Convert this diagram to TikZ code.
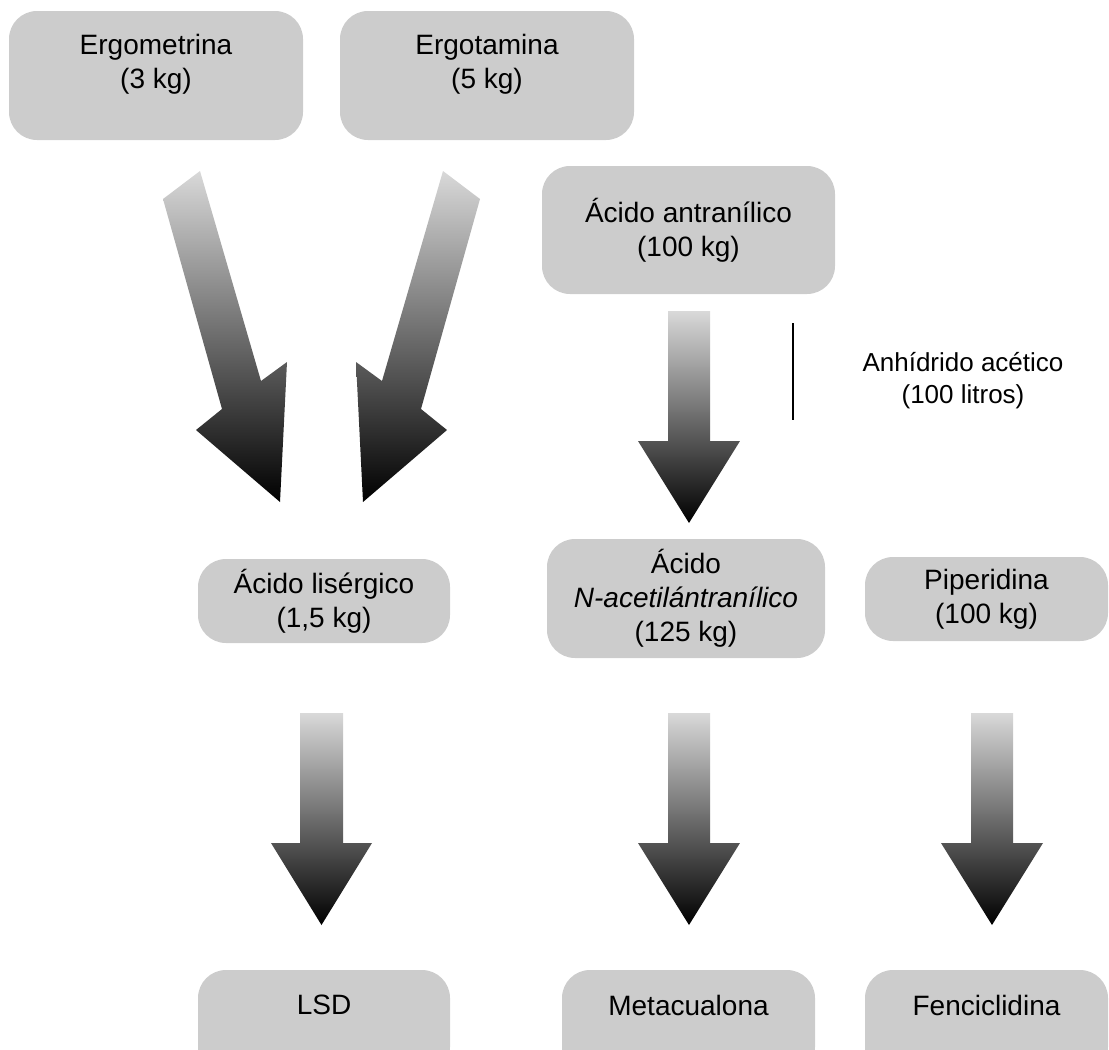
\documentclass[tikz,border=0pt]{standalone}
\usepackage{fontspec}
\setmainfont{Liberation Sans}
\usetikzlibrary{positioning}

\begin{document}
\begin{tikzpicture}[
        x=1pt, y=-1pt,
        base/.style={align=center, font=\fontsize{28}{34}\selectfont},
        box/.style={base, rectangle, rounded corners=28pt, fill=black!20, inner sep=0pt},
        bigarrow/.style={top color=black!15, bottom color=black},
        note/.style={base, font=\fontsize{26}{32}\selectfont}
    ]

        \useasboundingbox (0,0) rectangle (1109,1050);

        \node[box, minimum width=294pt, minimum height=129pt] (ergomet) at (156,75.5) {};
        \node[base] (ergomettext) at ([yshift=11.5pt]ergomet.center) {Ergometrina\\(3 kg)};
        \node[box, minimum width=294pt, minimum height=129pt] (ergotam) at (487,75.5) {};
        \node[base] (ergotamtext) at ([yshift=11.5pt]ergotam.center) {Ergotamina\\(5 kg)};

        \node[box, minimum width=293pt, minimum height=128pt] (antran) at (688.5,230) {Ácido antranílico\\(100 kg)};

        \node[box, minimum width=252pt, minimum height=84pt] (liserg) at (324,601) {Ácido lisérgico\\(1,5 kg)};
        \node[box, minimum width=278pt, minimum height=119pt] (acetil) at (686,598.5) {Ácido\\\textit{N-acetilántranílico}\\(125 kg)};
        \node[box, minimum width=243pt, minimum height=84pt] (piperid) at (986.5,599) {Piperidina\\(100 kg)};

        \node[box, minimum width=252pt, minimum height=105pt] (lsd) at (324,1022.5) {};
        \node[base] (lsdtext) at ([yshift=17.5pt]lsd.center) {LSD};
        \node[box, minimum width=253pt, minimum height=105pt] (metac) at (688.5,1022.5) {};
        \node[base] (metactext) at ([yshift=17.5pt]metac.center) {Metacualona};
        \node[box, minimum width=243pt, minimum height=105pt] (fenci) at (986.5,1022.5) {};
        \node[base] (fencitext) at ([yshift=17.5pt]fenci.center) {Fenciclidina};

        \node[note] (anhid) at (963,381) {Anhídrido acético\\(100 litros)};
        \coordinate (bartop) at (793,323);
        \coordinate (barbot) at (793,420);
        \draw[line width=1.5pt] (bartop) -- (barbot);

        % slanted arrows into the lysergic acid box
        \shade[bigarrow] (163,199) -- (200,171) -- (261,381) -- (287,362) -- (280,502) -- (196,430) -- (222,409) -- cycle;
        \shade[bigarrow] (443,171) -- (480,199) -- (421,409) -- (447,430) -- (363,502) -- (356,362) -- (382,381) -- cycle;

        % straight arrows
        \shade[bigarrow] (668,311) -- (710,311) -- (710,441) -- (740,441) -- (689,523) -- (638,441) -- (668,441) -- cycle;
        \shade[bigarrow] (300,713) -- (343,713) -- (343,843) -- (372,843) -- (321.5,925) -- (271,843) -- (300,843) -- cycle;
        \shade[bigarrow] (668,713) -- (710,713) -- (710,843) -- (740,843) -- (689,925) -- (638,843) -- (668,843) -- cycle;
        \shade[bigarrow] (971,713) -- (1013,713) -- (1013,843) -- (1043,843) -- (992,925) -- (941,843) -- (971,843) -- cycle;

    \end{tikzpicture}
\end{document}
